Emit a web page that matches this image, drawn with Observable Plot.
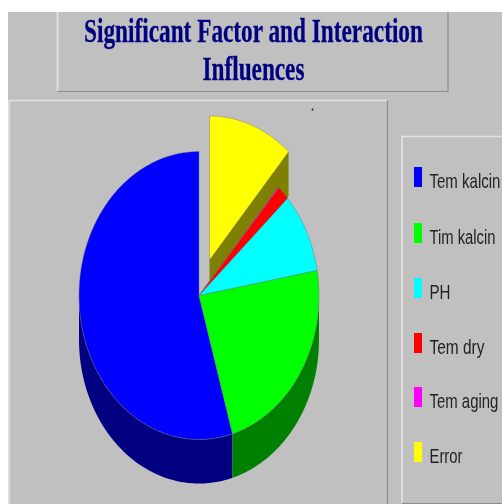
<!DOCTYPE html>
<html><head><meta charset="utf-8">
<script src="https://cdn.jsdelivr.net/npm/d3@7"></script>
<script src="https://cdn.jsdelivr.net/npm/@observablehq/plot@0.6"></script>
<style>html,body{margin:0;padding:0;background:#fff}svg{display:block;filter:blur(0.35px)}</style>
</head><body>
<div id="chart"></div>
<script>
const titleLines = ["Significant Factor and Interaction", "Influences"];
const categories = ["Tem kalcin", "Tim kalcin", "PH", "Tem dry", "Tem aging", "Error"];
const shares = [54.5, 23.3, 9.0, 1.65, 0.1, 11.45];
const topColors = ["#0000ff", "#00ff00", "#00ffff", "#ff0000", "#ff00ff", "#ffff00"];
const sideColors = ["#000080", "#008000", "#008080", "#800000", "#800080", "#808000"];

const W = 502, H = 504;
const pie = {cx: 198.5, cy: 295, rx: 120, ry: 144, depth: 44};
const explode = {Error: [10.5, -35.5]};

const total = d3.sum(shares);
let run = 0;
const slices = categories.map((name, i) => {
  const end = 360 - run / total * 360;
  run += shares[i];
  const start = 360 - run / total * 360;
  const [dx, dy] = explode[name] || [0, 0];
  return {name, start, end, top: topColors[i], side: sideColors[i], dx, dy};
});
const pt = (s, deg, down = 0) => {
  const a = deg * Math.PI / 180;
  return {x: pie.cx + s.dx + pie.rx * Math.sin(a), y: pie.cy + s.dy - pie.ry * Math.cos(a) + down};
};
const arc = (s, a, b, down = 0) => d3.range(0, 61).map(k => pt(s, a + (b - a) * k / 60, down));
const apex = (s, down = 0) => ({x: pie.cx + s.dx, y: pie.cy + s.dy + down});
const topFace = s => [apex(s), ...arc(s, s.start, s.end), apex(s)];
const outerWall = s => {
  const a = Math.max(s.start, 90), b = Math.min(s.end, 270);
  return b > a ? [...arc(s, a, b), ...arc(s, a, b, pie.depth).reverse()] : [];
};
const cutWall = (s, deg) => [apex(s), pt(s, deg), pt(s, deg, pie.depth), apex(s, pie.depth)];

const poly = (pts, fill, extra = {}) => Plot.line(pts, {x: "x", y: "y", fill, stroke: "none", ...extra});
const box = (x1, y1, x2, y2, hi, lo) => [
  Plot.rect([0], {x1: () => x1, x2: () => x2, y1: () => y1, y2: () => y2, fill: "#c0c0c0"}),
  Plot.line([{x: x1, y: y2}, {x: x1, y: y1}, {x: x2, y: y1}], {x: "x", y: "y", stroke: hi, strokeWidth: 1.6}),
  Plot.line([{x: x1, y: y2}, {x: x2, y: y2}, {x: x2, y: y1}], {x: "x", y: "y", stroke: lo, strokeWidth: 1.2})
];

const err = slices[5];
const hiC = "#e4e4e4", loC = "#8c8c8c";
const edge = {stroke: "#6f6f6f", strokeWidth: 0.6, strokeOpacity: 0.7};
const legendY = [167, 223, 278, 333, 387, 442];
const legendRows = categories.map((name, i) => ({name, color: topColors[i], y: legendY[i]}));

const plot = Plot.plot({
  width: W, height: H, margin: 0,
  x: {domain: [0, W], range: [0, W], axis: null},
  y: {domain: [0, H], range: [0, H], axis: null},
  color: {type: "identity"},
  marks: [
    Plot.rect([0], {x1: () => 8, x2: () => W, y1: () => 12, y2: () => H, fill: "#c0c0c0"}),
    ...box(57, 8, 447.5, 91, hiC, loC),
    Plot.rect([0], {x1: () => 0, x2: () => W, y1: () => 0, y2: () => 12, fill: "#fff"}),
    ...box(8.5, 100, 387, 506, hiC, loC),
    ...box(401.5, 136, 506, 503, hiC, loC),

    Plot.dot([0], {x: () => 312, y: () => 109, r: 0.9, fill: "#111"}),

    poly(cutWall(err, err.end), err.side),
    poly(outerWall(slices[0]), slices[0].side),
    poly(outerWall(slices[1]), slices[1].side),
    poly(topFace(err), err.top, edge),
    ...slices.slice(0, 5).map(s => poly(topFace(s), s.top, edge)),

    Plot.rect(legendRows, {x1: () => 414, x2: () => 422, y1: "y", y2: d => d.y + 20, fill: "color"}),
    Plot.text(legendRows, {x: () => 429, y: d => d.y + 14, text: "name", textAnchor: "start",
      fontFamily: "Liberation Sans", fontSize: 20, fill: "#222", className: "legend-label"}),

    Plot.text(titleLines, {x: () => 253, y: (d, i) => [31, 68.7][i], text: d => d, textAnchor: "middle",
      fontFamily: "Liberation Serif", fontWeight: "bold", fontSize: 33, fill: "#000080",
      stroke: "#000080", strokeWidth: 0.3, className: "title-label"})
  ]
});
plot.style.background = "transparent";
document.getElementById("chart").append(plot);

// The reference type is condensed: scale each string horizontally to its measured width.
const fit = (sel, widths) => d3.select(plot).selectAll(sel).selectAll("text")
  .attr("transform", function () {
    const k = widths[this.textContent] / this.getComputedTextLength();
    return `${this.getAttribute("transform") || ""} scale(${k},1)`;
  });
fit(".title-label", {"Significant Factor and Interaction": 339, "Influences": 102});
fit(".legend-label", {"Tem kalcin": 71, "Tim kalcin": 66, "PH": 21, "Tem dry": 55, "Tem aging": 69, "Error": 33});
</script>
</body></html>
